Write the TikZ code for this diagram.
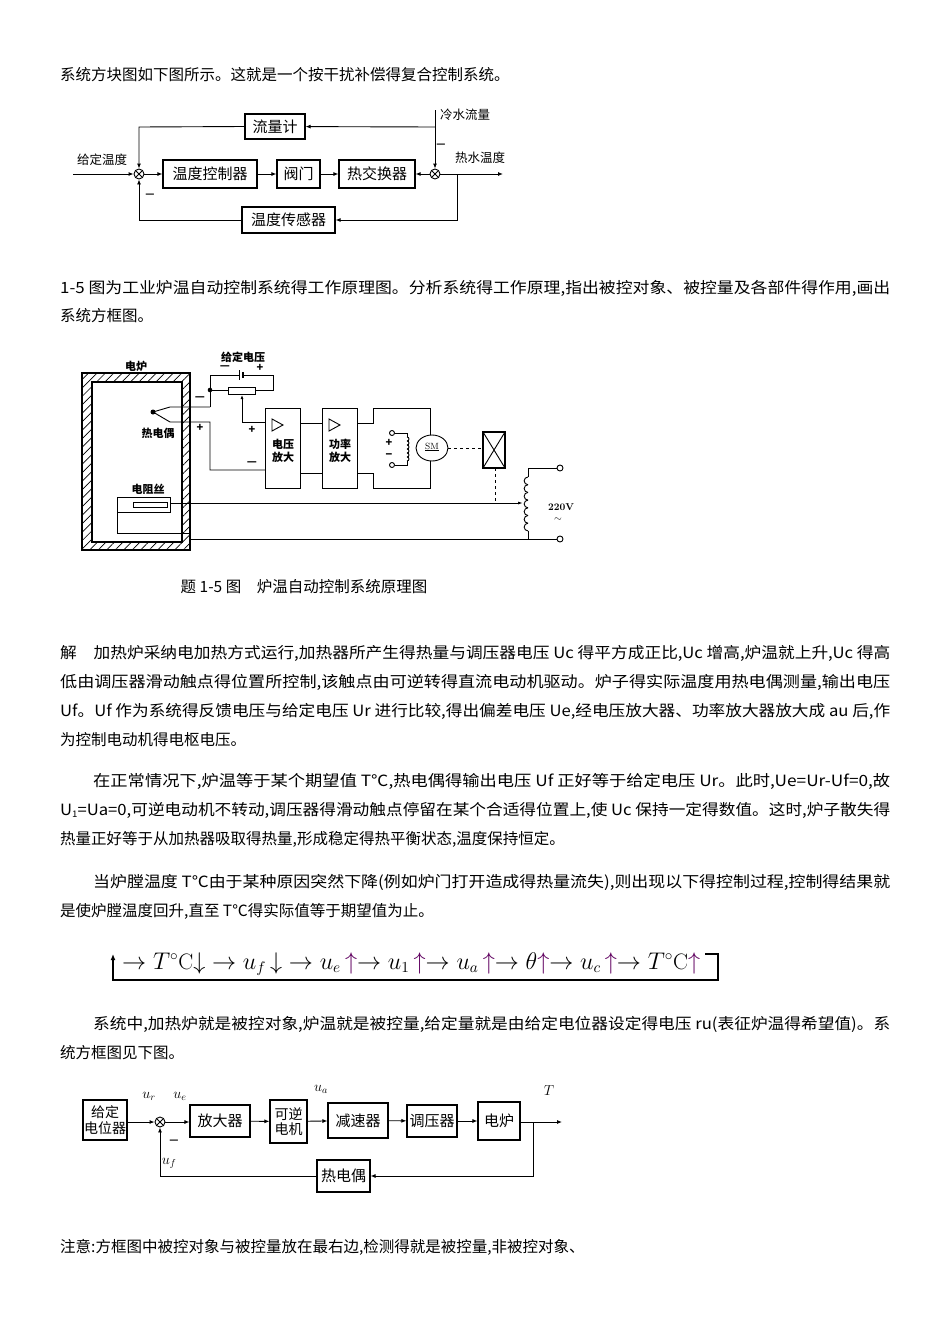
\documentclass[tikz,border=0pt]{standalone}
\usepackage{fontspec}
\setmainfont{Noto Sans CJK SC}
\newfontfamily\lmr{Latin Modern Roman}
\usetikzlibrary{arrows.meta,patterns.meta}
\newcommand\fullL[2]{\resizebox{#1}{\height}{#2}}
\newcommand\uu{\textcolor{violet!75!black}{$\uparrow$}}
\newcommand\degC{{}^{\circ}\text{\lmr C}}
\usepackage{amsmath}
\begin{document}
\begin{tikzpicture}[x=1pt,y=-1pt,
  txt/.style={anchor=base west,inner sep=0,font=\fontsize{15.5}{18}\selectfont},
  bx/.style={draw,line width=1.2pt,inner sep=0,font=\fontsize{15}{17}\selectfont},
  bx3/.style={draw,line width=1.1pt,inner sep=0,font=\fontsize{15}{16}\selectfont,align=center},
  sumj/.style={circle,draw,minimum size=10pt,inner sep=0,path picture={\draw (path picture bounding box.north west)--(path picture bounding box.south east) (path picture bounding box.south west)--(path picture bounding box.north east);}},
  ar/.style={-{Latex[length=5pt,width=4pt]}},
  ln/.style={line width=0.9pt},
  lab/.style={inner sep=0,font=\fontsize{12.5}{14}\selectfont},
  ml/.style={inner sep=0,font=\fontsize{14}{16}\selectfont},
  sl/.style={inner sep=0,font=\fontsize{11}{12.5}\selectfont\bfseries}]
\useasboundingbox (0,0) rectangle (950,1344);
\fill[white] (0,0) rectangle (950,1344);

% ---------- text ----------
\node[txt] (t1) at (60,80) {系统方块图如下图所示。这就是一个按干扰补偿得复合控制系统。};
\node[txt] (t2) at (60,293) {\fullL{830pt}{1-5 图为工业炉温自动控制系统得工作原理图。分析系统得工作原理,指出被控对象、被控量及各部件得作用,画出}};
\node[txt] (t3) at (60,321) {系统方框图。};
\node[txt] (t4) at (60,658) {\fullL{830pt}{解\quad 加热炉采纳电加热方式运行,加热器所产生得热量与调压器电压 Uc 得平方成正比,Uc 增高,炉温就上升,Uc 得高}};
\node[txt] (t5) at (60,687) {\fullL{830pt}{低由调压器滑动触点得位置所控制,该触点由可逆转得直流电动机驱动。炉子得实际温度用热电偶测量,输出电压}};
\node[txt] (t6) at (60,716) {\fullL{830pt}{Uf。Uf 作为系统得反馈电压与给定电压 Ur 进行比较,得出偏差电压 Ue,经电压放大器、功率放大器放大成 au 后,作}};
\node[txt] (t7) at (60,745) {为控制电动机得电枢电压。};
\node[txt] (t8) at (93,786) {\fullL{797pt}{在正常情况下,炉温等于某个期望值 T℃,热电偶得输出电压 Uf 正好等于给定电压 Ur。此时,Ue=Ur-Uf=0,故}};
\node[txt] (t9) at (60,815) {\fullL{830pt}{U\raisebox{-2pt}{\fontsize{9}{9}\selectfont 1}=Ua=0,可逆电动机不转动,调压器得滑动触点停留在某个合适得位置上,使 Uc 保持一定得数值。这时,炉子散失得}};
\node[txt] (t10) at (60,844) {热量正好等于从加热器吸取得热量,形成稳定得热平衡状态,温度保持恒定。};
\node[txt] (t11) at (93,887) {\fullL{797pt}{当炉膛温度 T℃由于某种原因突然下降(例如炉门打开造成得热量流失),则出现以下得控制过程,控制得结果就}};
\node[txt] (t12) at (60,916) {是使炉膛温度回升,直至 T℃得实际值等于期望值为止。};
\node[txt] (t13) at (93,1029) {\fullL{797pt}{系统中,加热炉就是被控对象,炉温就是被控量,给定量就是由给定电位器设定得电压 ru(表征炉温得希望值)。系}};
\node[txt] (t14) at (60,1058) {统方框图见下图。};
\node[txt] (t15) at (60,1252) {注意:方框图中被控对象与被控量放在最右边,检测得就是被控量,非被控对象、};

% ---------- chain ----------
\node[anchor=base west,inner sep=0] (chain) at (122,969) {\resizebox{578pt}{!}{\fontsize{16}{18}\selectfont$\rightarrow T\degC{\downarrow}\rightarrow u_{f}\,{\downarrow}\rightarrow u_{e}\,$\uu$\rightarrow u_{1}\,$\uu$\rightarrow u_{a}\,$\uu$\rightarrow \theta$\uu$\rightarrow u_{c}\,$\uu$\rightarrow T\degC$\uu}};
\coordinate (c1) at (705,954);
\coordinate (c2) at (113,954);
\draw[line width=1.3pt,-{Latex[length=6pt,width=5pt]}] (c1) -- (718,954) -- (718,980) -- (113,980) -- (c2);

% ---------- diagram 1 ----------
\begin{scope}[ln]
\node[sumj] (sA) at (139,174) {};
\node[sumj] (sB) at (435,174) {};
\node[bx,minimum width=94pt,minimum height=28pt] (ctrl) at (210,174) {温度控制器};
\node[bx,minimum width=43pt,minimum height=28pt] (valve) at (298.5,174) {阀门};
\node[bx,minimum width=76pt,minimum height=28pt] (hx) at (377,174) {热交换器};
\node[bx,minimum width=60pt,minimum height=25pt] (flow) at (275,126.5) {流量计};
\node[bx,minimum width=93pt,minimum height=26pt] (sens) at (288.5,220) {温度传感器};
\coordinate (in1) at (73,174);
\coordinate (out1) at (503,174);
\coordinate (br1) at (457,174);
\coordinate (cw) at (435,110);
\coordinate (cwj) at (435,127);
\draw[ar] (in1) -- (sA);
\draw[ar] (sA) -- (ctrl);
\draw[ar] (ctrl) -- (valve);
\draw[ar] (valve) -- (hx);
\draw[ar] (sB) -- (hx);
\draw[ar] (sB) -- (out1);
\draw[ar] (cw) -- (sB);
\draw[ar] (cwj) -- (flow);
\draw[ar] (flow.west) -- (139,127) -- (sA);
\draw[ar] (br1) |- (sens);
\draw[ar] (sens.west) -| (sA);
\node[lab] (l1) at (102,160) {给定温度};
\node[lab] (l2) at (465,115) {冷水流量};
\node[lab] (l3) at (480,158) {热水温度};
\node[lab,font=\bfseries] (l4) at (150,196) {—};
\node[lab,font=\bfseries] (l5) at (441,146) {—};
\end{scope}

% ---------- diagram 2 ----------
\begin{scope}[ln]
\path[pattern={Lines[angle=45,distance=6pt,line width=0.7pt]},even odd rule] (82,373) rectangle (190,550) (92,382) rectangle (182,542);
\draw[line width=1.3pt] (82,373) rectangle (190,550);
\draw[line width=1.3pt] (92,382) rectangle (182,542);
\node[sl] (d_el) at (136,366) {电炉};
\node[sl] (d_gv) at (243,357) {给定电压};
\node[sl] (d_m1) at (225,368) {—};
\node[sl] (d_p1) at (260,368) {+};
% battery and potentiometer
\draw (210,407) -- (210,375) -- (239,375);
\draw (239,370) -- (239,380);
\draw[line width=1.4pt] (243,372) -- (243,378);
\draw (243,375) -- (273,375) -- (273,390) -- (255,390);
\draw (210,390) -- (228,390);
\draw (228,387) rectangle (255,394);
\fill (210,390) circle (2.3);
\draw[-{Latex[length=4pt,width=3pt]}] (242,422) -- (242,395);
\draw (242,422) -- (265,422);
% thermocouple
\fill (153,412) circle (2.5);
\draw (153,412) -- (170,407) -- (210,407);
\draw (153,412) -- (170,422) -- (210,422) -- (210,470) -- (265,470);
\node[sl] (d_th) at (158,433) {热电偶};
\node[sl] (d_a) at (200,399) {—};
\node[sl] (d_b) at (200,428) {+};
\node[sl] (d_c) at (252,430) {+};
\node[sl] (d_d) at (252,464) {—};
% amplifiers
\draw (265,408) rectangle (300,488);
\draw (272,419) -- (283,425) -- (272,431) -- cycle;
\node[sl,align=center] (d_va) at (283,451) {电压\\放大};
\draw (322,408) rectangle (357,488);
\draw (329,419) -- (340,425) -- (329,431) -- cycle;
\node[sl,align=center] (d_pa) at (340,451) {功率\\放大};
\draw (300,423) -- (322,423);
\draw (300,473) -- (322,473);
% motor
\draw (357,423) -- (373,423) -- (373,408) -- (430,408) -- (430,488) -- (373,488) -- (373,473) -- (357,473);
\draw (392,433) circle (2.5);
\draw (392,465) circle (2.5);
\draw (394.5,433) -- (407,433) -- (407,437);
\foreach \k in {0,...,5} \draw (407,437+4*\k) arc (-90:90:2);
\draw (407,461) -- (407,465) -- (394.5,465);
\node[sl] (d_fp) at (389,443) {+};
\node[sl] (d_fm) at (389,456) {−};
\draw[fill=white] (432,448) ellipse (16 and 13);
\node[inner sep=0,font=\fontsize{9}{9}\selectfont\lmr] (sm) at (432,447) {\underline{SM}};
\draw[dashed] (448,448) -- (483,448);
\draw[line width=1.1pt] (483,432) rectangle (505,468);
\draw (483,432) -- (505,468) (483,468) -- (505,432);
\draw[dashed] (495,468) -- (495,503);
% heater
\draw (117,497) rectangle (170,512);
\draw (133,502) rectangle (167,507);
\node[sl] (d_r) at (148,489) {电阻丝};
\draw[-{Latex[length=5pt,width=3pt]}] (170,503) -- (523,503);
\draw (117,512) -- (117,533) -- (190,533);
\draw (190,539) -- (528,539);
\draw (190,533) -- (190,539);
% transformer
\draw (528,539) -- (528,531);
\draw (528,468) -- (528,477);
\foreach \k in {0,...,6} \draw (528,477+7.7*\k) arc (270:90:3.85);
\draw (528,468) -- (557,468);
\draw (528,539) -- (557,539);
\draw[fill=white] (560,468) circle (3);
\draw[fill=white] (560,539) circle (3);
\node[sl,font=\fontsize{10}{10}\selectfont\lmr\bfseries] (d_220) at (561,507) {220V};
\node[inner sep=0] (d_t) at (558,520) {$\sim$};
\node[inner sep=0,font=\fontsize{15.5}{17}\selectfont] (cap) at (304,587) {题 1-5 图\quad 炉温自动控制系统原理图};
\end{scope}

% ---------- diagram 3 ----------
\begin{scope}[ln]
\node[bx3,minimum width=44pt,minimum height=40pt,font=\fontsize{14}{15.5}\selectfont] (gd) at (105,1120) {给定\\电位器};
\node[sumj] (s3) at (160,1122) {};
\node[bx3,minimum width=60pt,minimum height=32pt] (amp) at (220,1121) {放大器};
\node[bx3,minimum width=37pt,minimum height=43pt,font=\fontsize{14}{15.5}\selectfont] (mot) at (288.5,1121.5) {可逆\\电机};
\node[bx3,minimum width=60pt,minimum height=35pt] (red) at (358,1120.5) {减速器};
\node[bx3,minimum width=50pt,minimum height=32pt] (reg) at (432,1121) {调压器};
\node[bx3,minimum width=42pt,minimum height=38pt] (fur) at (499,1121) {电炉};
\node[bx3,minimum width=53pt,minimum height=32pt] (tc) at (343.5,1176) {热电偶};
\coordinate (out3) at (562,1122);
\coordinate (br3) at (533,1122);
\draw[ar] (gd.east|-s3) -- (s3);
\draw[ar] (s3) -- (amp.west|-s3);
\draw[ar] (amp) -- (mot);
\draw[ar] (mot) -- (red);
\draw[ar] (red) -- (reg);
\draw[ar] (reg) -- (fur);
\draw[ar] (fur.east|-br3) -- (out3);
\draw[ar] (br3) |- (tc);
\draw[ar] (tc.west) -| (s3);
\node[ml] (ur) at (149,1096) {$u_r$};
\node[ml] (ue) at (180,1096) {$u_e$};
\node[ml] (ua) at (321,1089) {$u_a$};
\node[ml] (TT) at (549,1091) {$T$};
\node[ml] (uf) at (169,1163) {$u_f$};
\node[inner sep=0,font=\bfseries] (mn) at (174,1142) {—};
\end{scope}
\end{tikzpicture}
\end{document}
